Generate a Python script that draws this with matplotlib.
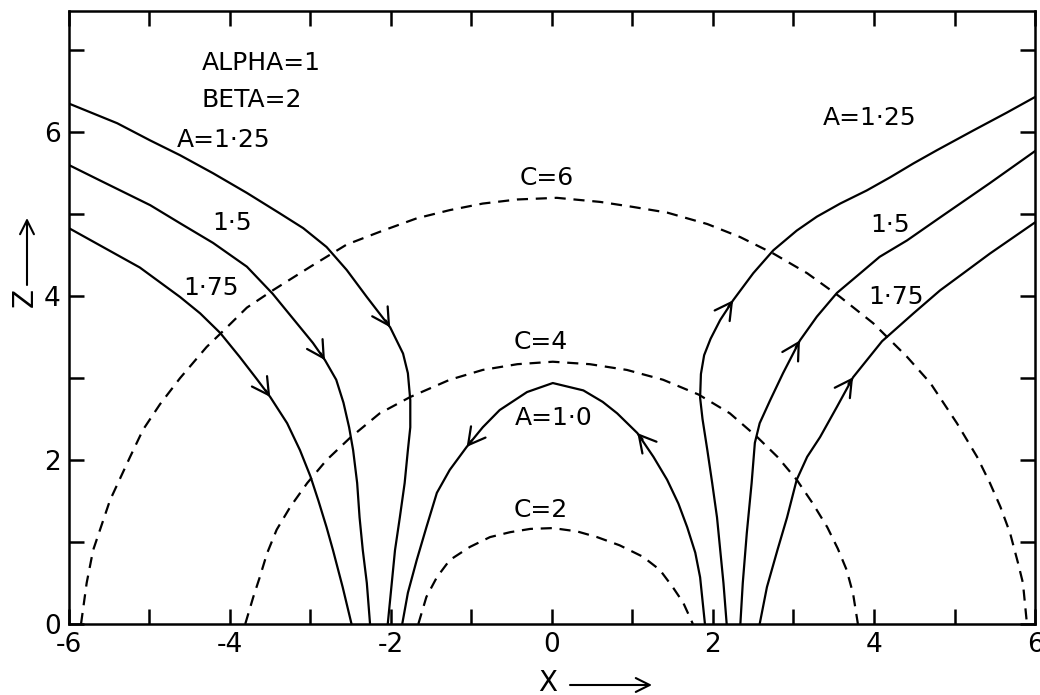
import numpy as np
import matplotlib.pyplot as plt
from matplotlib.ticker import MultipleLocator

plt.rcParams['font.family'] = ['DejaVu Sans']
plt.rcParams['axes.unicode_minus'] = False

# field lines A (left branch runs top -> bottom, right branch bottom -> top)
a125_left_x = [-6.0, -5.40, -4.99, -4.62, -4.21, -3.79, -3.38, -3.09, -2.80, -2.55, -2.30, -2.01, -1.85,
               -1.79, -1.76, -1.76, -1.79, -1.83, -1.89, -1.95, -1.99, -2.04]
a125_left_z = [6.35, 6.11, 5.90, 5.72, 5.50, 5.26, 5.01, 4.83, 4.60, 4.32, 3.99, 3.62, 3.30,
               3.06, 2.73, 2.40, 2.12, 1.72, 1.30, 0.90, 0.50, 0.0]
a15_left_x = [-6.0, -5.61, -4.99, -4.62, -4.21, -3.79, -3.47, -3.17, -2.97, -2.82, -2.68, -2.59,
              -2.52, -2.47, -2.42, -2.39, -2.35, -2.30, -2.26]
a15_left_z = [5.60, 5.41, 5.11, 4.89, 4.65, 4.36, 4.03, 3.67, 3.43, 3.22, 2.98, 2.70,
              2.40, 2.12, 1.72, 1.30, 0.90, 0.50, 0.0]
a175_left_x = [-6.0, -5.12, -4.62, -4.37, -4.12, -3.88, -3.66, -3.50, -3.29, -3.13, -3.0, -2.90,
               -2.80, -2.72, -2.60, -2.49]
a175_left_z = [4.83, 4.35, 3.99, 3.79, 3.55, 3.26, 2.98, 2.77, 2.45, 2.12, 1.80, 1.50,
               1.18, 0.90, 0.45, 0.0]

a125_right_x = [2.17, 2.13, 2.09, 2.05, 1.99, 1.93, 1.87, 1.84, 1.85, 1.89, 1.97, 2.09, 2.25, 2.50,
                2.75, 3.04, 3.29, 3.58, 3.91, 4.20, 4.49, 4.78, 5.23, 5.65, 6.0]
a125_right_z = [0.0, 0.50, 0.90, 1.30, 1.72, 2.12, 2.50, 2.76, 3.05, 3.28, 3.48, 3.71, 3.95, 4.28,
                4.56, 4.80, 4.97, 5.13, 5.29, 5.45, 5.62, 5.78, 6.02, 6.24, 6.43]
a15_right_x = [2.34, 2.37, 2.42, 2.48, 2.52, 2.58, 2.71, 2.87, 3.08, 3.29, 3.54, 3.83, 4.07, 4.41,
               4.82, 5.44, 6.0]
a15_right_z = [0.0, 0.50, 1.11, 1.72, 2.21, 2.45, 2.73, 3.06, 3.46, 3.75, 4.04, 4.28, 4.48, 4.68,
               4.96, 5.38, 5.77]
a175_right_x = [2.58, 2.67, 2.80, 2.92, 3.04, 3.17, 3.33, 3.54, 3.74, 4.10, 4.49, 4.82, 5.11, 5.44, 6.0]
a175_right_z = [0.0, 0.45, 0.90, 1.30, 1.76, 2.04, 2.28, 2.65, 3.01, 3.45, 3.79, 4.07, 4.28, 4.52, 4.90]

# A=1.0 loop, right foot -> left foot
a10_x = [1.90, 1.84, 1.78, 1.68, 1.57, 1.43, 1.26, 1.06, 0.81, 0.63, 0.39, 0.01, -0.31, -0.65,
         -0.86, -1.06, -1.27, -1.43, -1.56, -1.68, -1.79, -1.86]
a10_z = [0.0, 0.57, 0.87, 1.18, 1.47, 1.76, 2.04, 2.33, 2.57, 2.71, 2.85, 2.94, 2.83, 2.61,
         2.40, 2.16, 1.88, 1.60, 1.18, 0.78, 0.38, 0.0]

# constant-C curves (dashed)
c6_x = [-5.85, -5.78, -5.70, -5.49, -5.24, -5.08, -4.87, -4.62, -4.29, -4.09, -3.79, -3.47, -3.0,
        -2.55, -2.10, -1.68, -1.27, -0.86, -0.43, 0.06, 0.60, 1.0, 1.43, 1.93, 2.34, 2.75, 3.17,
        3.58, 3.99, 4.41, 4.70, 5.03, 5.28, 5.44, 5.57, 5.69, 5.79, 5.85, 5.90]
c6_z = [0.0, 0.50, 0.90, 1.51, 2.04, 2.37, 2.68, 3.0, 3.38, 3.57, 3.86, 4.07, 4.36,
        4.63, 4.80, 4.95, 5.05, 5.13, 5.18, 5.20, 5.15, 5.09, 5.02, 4.88, 4.72, 4.52, 4.28,
        3.99, 3.67, 3.26, 2.94, 2.45, 2.04, 1.72, 1.43, 1.11, 0.74, 0.50, 0.0]
c4_x = [-3.81, -3.71, -3.63, -3.54, -3.42, -3.25, -3.04, -2.80, -2.51, -2.14, -1.76, -1.27, -0.86,
        -0.43, 0.01, 0.47, 0.93, 1.38, 1.82, 2.21, 2.55, 2.80, 3.04, 3.24, 3.42, 3.55, 3.66, 3.74, 3.80]
c4_z = [0.0, 0.33, 0.57, 0.86, 1.15, 1.43, 1.72, 2.0, 2.27, 2.57, 2.77, 2.98, 3.10,
        3.17, 3.20, 3.17, 3.10, 2.98, 2.80, 2.57, 2.28, 2.04, 1.76, 1.47, 1.18, 0.92, 0.66, 0.37, 0.0]
c2_x = [-1.66, -1.56, -1.43, -1.27, -1.02, -0.77, -0.52, -0.27, 0.01, 0.31, 0.56, 0.84, 1.13,
        1.34, 1.50, 1.63, 1.75]
c2_z = [0.0, 0.33, 0.57, 0.78, 0.94, 1.06, 1.12, 1.16, 1.17, 1.13, 1.06, 0.96, 0.82,
        0.66, 0.45, 0.26, 0.0]

# which point of each line carries the arrowhead
solid_lines = [
    (a125_left_x, a125_left_z, [11]),
    (a15_left_x, a15_left_z, [9]),
    (a175_left_x, a175_left_z, [7]),
    (a125_right_x, a125_right_z, [12]),
    (a15_right_x, a15_right_z, [8]),
    (a175_right_x, a175_right_z, [8]),
    (a10_x, a10_z, [7, 15]),
]
dashed_lines = [(c6_x, c6_z), (c4_x, c4_z), (c2_x, c2_z)]

labels = ["ALPHA=1", "BETA=2", "A=1·25", "1·5", "1·75", "A=1·25", "1·5", "1·75",
          "C=6", "C=4", "A=1·0", "C=2"]
label_x = [-4.35, -4.35, -4.66, -4.22, -4.58, 3.37, 3.95, 3.93, -0.40, -0.48, -0.46, -0.48]
label_z = [6.85, 6.39, 5.90, 4.89, 4.10, 6.18, 4.87, 3.99, 5.44, 3.44, 2.51, 1.39]

fig = plt.figure(figsize=(10.4, 6.95), dpi=100)
ax = fig.add_axes([0.0663, 0.1022, 0.9289, 0.882])

for xs, zs, arrows in solid_lines:
    ax.plot(xs, zs, color='black', lw=1.6)
    for i in arrows:
        dx = xs[i + 1] - xs[i - 1]
        dz = zs[i + 1] - zs[i - 1]
        n = np.hypot(dx, dz)
        tail = (xs[i] - 0.1 * dx / n, zs[i] - 0.1 * dz / n)
        ax.annotate('', xy=(xs[i], zs[i]), xytext=tail,
                    arrowprops=dict(arrowstyle='->,head_length=0.6,head_width=0.33',
                                    lw=1.6, color='black', shrinkA=0, shrinkB=0,
                                    mutation_scale=20))

for xs, zs in dashed_lines:
    ax.plot(xs, zs, color='black', lw=1.6, linestyle=(0, (5, 3.5)))

for t, x, z in zip(labels, label_x, label_z):
    ax.text(x, z, t, fontsize=18, ha='left', va='center')

ax.set_xlim(-6, 6)
ax.set_ylim(0, 7.48)
ax.xaxis.set_major_locator(MultipleLocator(2))
ax.xaxis.set_minor_locator(MultipleLocator(1))
ax.yaxis.set_major_locator(MultipleLocator(2))
ax.yaxis.set_minor_locator(MultipleLocator(1))
ax.tick_params(which='both', direction='in', length=11, width=1.8,
               top=True, right=True, labelsize=19)
ax.tick_params(axis='x', pad=6)
ax.tick_params(axis='y', pad=6)
for s in ax.spines.values():
    s.set_linewidth(1.8)

# axis names with arrows
fig.text(548 / 1040, 12 / 695, "X", fontsize=20, ha='center', va='center')
ax.annotate('', xy=(652, 10), xytext=(570, 10), xycoords='figure pixels',
            arrowprops=dict(arrowstyle='->,head_length=0.5,head_width=0.25',
                            lw=1.5, color='black', shrinkA=0, shrinkB=0,
                            mutation_scale=20))
fig.text(25 / 1040, 397 / 695, "Z", fontsize=20, ha='center', va='center', rotation=90)
ax.annotate('', xy=(27, 477), xytext=(27, 410), xycoords='figure pixels',
            arrowprops=dict(arrowstyle='->,head_length=0.5,head_width=0.25',
                            lw=1.5, color='black', shrinkA=0, shrinkB=0,
                            mutation_scale=20))

fig.savefig("out.png", dpi=100)
